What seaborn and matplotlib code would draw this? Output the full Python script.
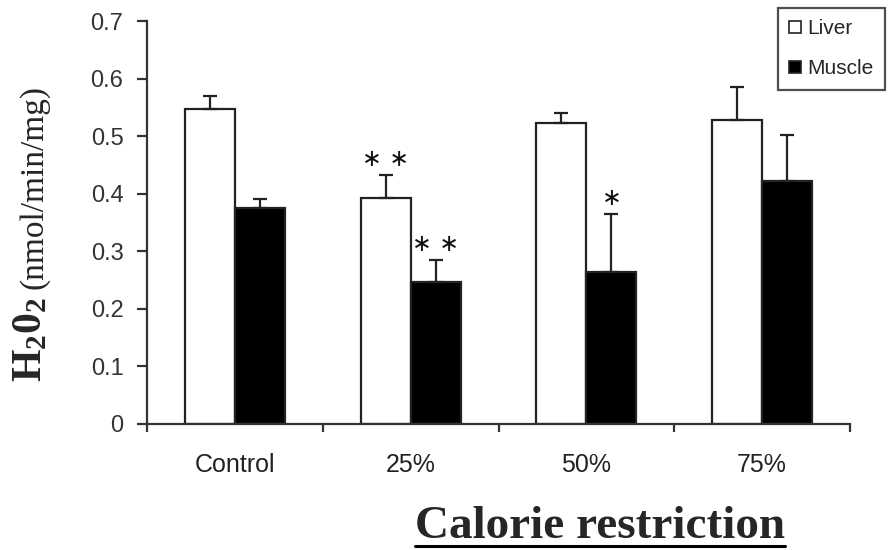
import pandas as pd
import numpy as np
import matplotlib
matplotlib.use("Agg")
import matplotlib.pyplot as plt
from matplotlib.lines import Line2D
import seaborn as sns

# values
groups = ["Control", "25%", "50%", "75%"]
tissues = ["Liver", "Muscle"]
liver = [0.547, 0.392, 0.523, 0.528]
muscle = [0.375, 0.246, 0.264, 0.422]
liver_err = [0.022, 0.040, 0.017, 0.058]
muscle_err = [0.015, 0.038, 0.100, 0.080]
liver_stars = ["", "**", "", ""]
muscle_stars = ["", "**", "*", ""]

df = pd.DataFrame({
    "group": groups * 2,
    "tissue": ["Liver"] * 4 + ["Muscle"] * 4,
    "value": liver + muscle,
})

sns.set_style("white")
plt.rcParams["font.family"] = ["Liberation Sans", "DejaVu Sans"]
plt.rcParams["mathtext.fontset"] = "custom"
plt.rcParams["mathtext.rm"] = "Liberation Serif"
plt.rcParams["mathtext.bf"] = "Liberation Serif:bold"

W, H = 894, 550
fig = plt.figure(figsize=(W / 100, H / 100), dpi=100)
ax = fig.add_axes([147 / W, 1 - 424 / H, (850 - 147) / W, (424 - 21) / H])

sns.barplot(data=df, x="group", y="value", hue="tissue",
            palette={"Liver": "white", "Muscle": "black"},
            edgecolor="#222222", linewidth=1.6, width=0.57,
            errorbar=None, ax=ax)

errs = {"Liver": liver_err, "Muscle": muscle_err}
stars = {"Liver": liver_stars, "Muscle": muscle_stars}
for cont, t in zip(ax.containers, tissues):
    xs = [p.get_x() + p.get_width() / 2 for p in cont]
    hs = [p.get_height() for p in cont]
    e = errs[t]
    ax.errorbar(xs, hs, yerr=[np.zeros(len(e)), e], fmt="none",
                ecolor="#222222", elinewidth=1.6, capsize=5, capthick=1.6)
    for x, h, ee, s in zip(xs, hs, e, stars[t]):
        if s:
            ax.text(x, h + ee + 0.028, " ".join("\u2217" * len(s)),
                    ha="center", va="center", fontsize=17,
                    family="DejaVu Sans", color="#111111")

ax.set_ylim(0, 0.7)
ax.set_xlim(-0.5, 3.5)
ax.set_yticks(np.arange(0, 0.71, 0.1))
ax.set_yticklabels(["0"] + [f"{v:.1f}" for v in np.arange(0.1, 0.71, 0.1)])
ax.set_xlabel("")
ax.set_ylabel("")

sns.despine(ax=ax)
for sp in ["left", "bottom"]:
    ax.spines[sp].set_color("#333333")
    ax.spines[sp].set_linewidth(1.6)

ax.tick_params(axis="y", direction="out", length=7, width=1.6,
               color="#333333", pad=10, labelsize=17, labelcolor="#333333",
               left=True)
ax.tick_params(axis="x", which="major", length=0, pad=21,
               labelsize=18, labelcolor="#222222")
ax.set_xticks([-0.5, 0.5, 1.5, 2.5, 3.5], minor=True)
ax.tick_params(axis="x", which="minor", direction="out", length=6,
               width=1.6, color="#333333", bottom=True)

# legend, partly cut off at the right edge like the reference
handles, labels = ax.get_legend_handles_labels()
leg = ax.legend(handles, labels, loc="upper left",
                bbox_to_anchor=(778 / W, 1 - 8 / H),
                bbox_transform=fig.transFigure,
                frameon=True, fancybox=False, fontsize=15,
                handlelength=0.55, handleheight=0.55, handletextpad=0.3,
                labelspacing=1.0, borderpad=0.55, borderaxespad=0)
leg.get_frame().set_edgecolor("#222222")
leg.get_frame().set_linewidth(1.6)
for h in leg.legend_handles:
    h.set_edgecolor("#222222")
    h.set_linewidth(1.2)

# y label in two pieces
fig.text(30 / W, 1 - 340 / H, r"$\mathbf{H_{2}0_{2}}$", rotation=90,
         ha="center", va="center", fontsize=30)
fig.text(34 / W, 1 - 187 / H, "(nmol/min/mg)", rotation=90,
         ha="center", va="center", fontsize=24, family="Liberation Serif")

# underlined x title
title = fig.text(600 / W, 1 - 538 / H, "Calorie restriction",
                 ha="center", va="baseline", fontsize=34,
                 family="Liberation Serif", weight="bold")
fig.canvas.draw()
bb = title.get_window_extent(fig.canvas.get_renderer())
uy = 1 - 546 / H
fig.add_artist(Line2D([bb.x0 / W, bb.x1 / W], [uy, uy], color="black",
                      linewidth=2.2, transform=fig.transFigure))

fig.savefig("out.png", dpi=100)
